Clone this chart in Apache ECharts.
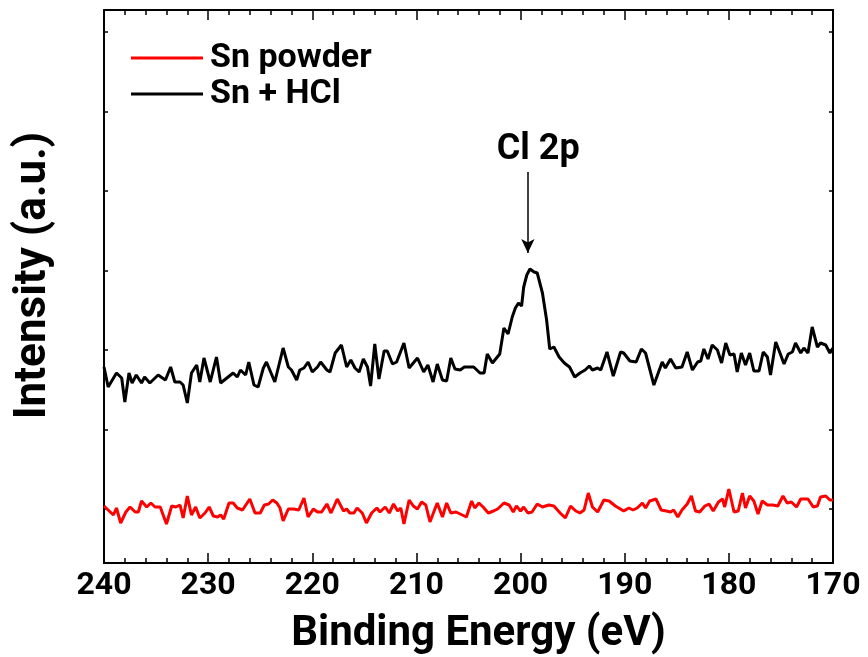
<!DOCTYPE html>
<html>
<head>
<meta charset="utf-8">
<title>XPS Cl 2p</title>
<script src="https://cdn.jsdelivr.net/npm/echarts@6/dist/echarts.min.js"></script>
<style>
  html, body { margin: 0; padding: 0; background: #fff; }
  #chart { width: 868px; height: 657px; }
</style>
</head>
<body>
<div id="chart"></div>
<script>
// Binding energy axis (eV), drawn high to low
const xTicks = [240, 230, 220, 210, 200, 190, 180, 170];
// Intensity tick positions (a.u.)
const yTicks = [0, 79.5, 159, 238.5, 318, 397.5, 477];

// Sn + HCl spectrum
const hclEnergy = [240.0,239.6,238.8,238.3,238.0,237.6,237.3,236.9,236.4,236.1,
  235.6,234.8,234.1,233.6,233.2,232.7,232.4,232.0,231.6,231.1,
  230.8,230.4,229.8,229.2,228.8,228.2,227.6,227.2,226.9,226.4,
  226.1,225.6,225.2,224.7,224.4,223.6,222.8,222.3,222.0,221.5,
  221.2,220.8,220.4,220.0,219.5,219.2,218.6,218.3,217.8,217.2,
  216.7,216.3,215.9,215.5,215.1,214.7,214.4,214.0,213.6,213.1,
  212.8,212.3,211.9,211.2,210.7,209.9,209.3,208.9,208.4,208.0,
  207.5,207.1,206.7,206.3,205.8,205.4,204.5,203.9,203.5,203.2,
  202.7,202.0,201.6,201.2,200.8,200.5,200.2,199.9,199.7,199.4,
  199.1,198.7,198.4,197.9,197.5,197.2,196.8,196.3,195.8,195.3,
  194.8,194.3,193.8,193.4,193.1,192.6,192.3,191.7,191.1,190.4,
  190.1,189.5,188.9,188.4,188.0,187.2,186.4,186.1,185.6,185.1,
  184.5,184.0,183.5,183.0,182.7,182.4,182.0,181.6,181.1,180.7,
  180.3,179.9,179.5,179.2,178.8,178.4,178.0,177.6,177.1,176.7,
  176.3,176.0,175.5,175.2,174.7,174.3,173.9,173.6,173.1,172.8,
  172.4,172.0,171.5,171.2,170.7,170.3,170.0];
const hclIntensity = [142,122,136,131,107,136,126,134,126,132,
  126,134,129,142,127,127,124,106,136,144,
  127,151,127,152,126,131,136,132,139,134,
  147,124,122,141,147,127,161,142,139,129,
  139,141,147,137,142,147,139,137,156,164,
  142,149,141,137,150,142,123,165,130,158,
  158,145,147,166,141,151,137,144,127,145,
  129,128,151,140,139,142,142,136,136,155,
  146,155,181,175,192,201,206,203,222,234,
  240,237,236,216,189,160,162,152,146,142,
  132,136,139,143,139,141,139,157,133,157,
  156,148,147,160,156,124,147,141,150,141,
  142,157,139,147,148,160,150,164,159,146,
  166,154,155,137,156,144,156,138,138,157,
  152,134,167,159,145,155,157,166,156,161,
  156,182,162,166,164,156,161];

// Sn powder spectrum
const powderEnergy = [240.0,239.6,239.1,238.8,238.4,237.9,237.5,237.0,236.7,236.4,
  235.9,235.5,235.1,234.6,234.0,233.5,233.1,232.7,232.4,232.0,
  231.6,231.2,230.8,230.3,229.9,229.5,229.1,228.8,228.5,228.0,
  227.6,227.2,226.7,226.0,225.5,225.0,224.6,224.2,223.8,223.4,
  223.1,222.8,222.3,221.8,221.3,220.8,220.4,219.9,219.5,219.1,
  218.6,218.2,217.6,217.0,216.7,216.4,
  216.0,215.7,215.2,214.8,214.3,213.8,213.5,213.0,212.6,212.2,
  211.8,211.5,211.2,210.7,210.3,209.9,209.5,209.1,208.7,208.3,
  208.0,207.5,207.1,206.7,206.2,205.8,205.2,204.7,204.4,204.0,
  203.6,203.1,202.6,202.2,201.6,201.1,200.7,200.4,200.0,199.7,
  199.3,198.9,198.4,197.9,197.3,196.8,196.2,195.7,195.2,194.7,
  194.3,193.9,193.5,
  193.1,192.6,192.0,191.5,190.9,190.1,189.6,189.2,188.8,188.3,
  188.0,187.6,187.0,186.5,186.0,185.6,185.3,184.9,184.5,184.0,
  183.6,183.2,182.8,182.3,181.9,181.5,181.0,180.6,180.4,180.0,
  179.5,179.1,178.7,178.4,178.0,177.6,177.2,176.8,176.3,175.8,
  175.3,174.8,174.4,174.0,173.5,173.1,172.4,171.9,171.5,171.2,
  170.7,170.3,170.0];
const powderIntensity = [3,-1,-6,1,-14,-3,2,-3,-3,8,
  2,6,2,2,-15,3,2,4,-9,13,
  -6,2,-9,-4,2,-7,-8,-6,-10,6,
  6,1,-1,10,-4,-4,4,5,9,6,
  1,-12,0,0,-1,11,-8,0,-3,-3,
  5,-4,10,-2,0,-4,
  -4,1,-4,-14,-4,1,-3,2,-4,5,
  -2,1,-15,9,3,0,7,4,-13,-2,
  6,-8,6,-4,-3,-5,-8,8,1,6,
  2,-4,-2,0,6,4,-3,3,-2,2,
  -4,-3,5,2,4,3,-4,-9,3,-2,
  -4,-1,16,
  2,-3,9,8,3,-2,1,-1,1,6,
  1,8,10,-1,-2,-3,-1,-8,-1,5,
  13,-2,-3,3,5,-2,7,10,2,20,
  -3,-2,16,1,13,8,-5,8,4,4,
  3,13,6,7,2,10,10,2,3,12,
  13,9,9];

// Cl 2p peak marker
const peakEnergy = 199.3;
const arrowFrom = 337;
const arrowTo = 256;
const peakLabelPos = [198.3, 359];

const pairs = (xs, ys) => xs.map((x, i) => [x, ys[i]]);

const FONT = "Roboto, 'Liberation Sans', sans-serif";
const yMin = -54, yMax = 499;

const chart = echarts.init(document.getElementById('chart'), null, { renderer: 'canvas' });

const xBase = {
  type: 'value', min: 170, max: 240, interval: 10, inverse: true,
  axisLine: { show: true, onZero: false, lineStyle: { color: '#000', width: 2 } },
  splitLine: { show: false },
  minorTick: { show: true, splitNumber: 5, length: 5, lineStyle: { color: '#000', width: 1.5 } },
  axisTick: { show: true, inside: true, length: 10, lineStyle: { color: '#000', width: 1.5 } }
};
const yBase = {
  type: 'value', min: yMin, max: yMax,
  axisLine: { show: true, onZero: false, lineStyle: { color: '#000', width: 2 } },
  splitLine: { show: false },
  axisTick: { show: true, inside: true, length: 4, customValues: yTicks, lineStyle: { color: '#000', width: 1.5 } },
  axisLabel: { show: false }
};

chart.setOption({
  backgroundColor: '#fff',
  animation: false,
  grid: { left: 104, right: 35, top: 10, bottom: 94, containLabel: false, outerBoundsMode: 'none' },
  legend: {
    orient: 'vertical', left: 126, top: 35,
    itemWidth: 72, itemHeight: 3, itemGap: 0, icon: 'rect',
    textStyle: { fontFamily: FONT, fontWeight: 'bold', fontSize: 34, lineHeight: 36, color: '#000', padding: [0, 0, 0, 2] },
    data: ['Sn powder', 'Sn + HCl']
  },
  xAxis: [
    Object.assign({}, xBase, {
      position: 'bottom',
      name: 'Binding Energy (eV)', nameLocation: 'middle', nameGap: 50,
      nameTextStyle: { fontFamily: FONT, fontWeight: 'bold', fontSize: 42, color: '#000', padding: [0, 0, 0, 20] },
      axisLabel: { show: true, margin: 7, fontFamily: FONT, fontWeight: 'bold', fontSize: 32, color: '#000',
        customValues: xTicks }
    }),
    Object.assign({}, xBase, { position: 'top', axisLabel: { show: false } })
  ],
  yAxis: [
    Object.assign({}, yBase, {
      position: 'left',
      name: 'Intensity (a.u.)', nameLocation: 'middle', nameGap: 48,
      nameTextStyle: { fontFamily: FONT, fontWeight: 'bold', fontSize: 44, color: '#000', padding: [0, 0, 0, 22] }
    }),
    Object.assign({}, yBase, { position: 'right' })
  ],
  series: [
    {
      name: 'Sn powder', type: 'line', symbol: 'none',
      xAxisIndex: 0, yAxisIndex: 0,
      lineStyle: { color: '#ff0000', width: 3 }, itemStyle: { color: '#ff0000' },
      data: pairs(powderEnergy, powderIntensity)
    },
    {
      name: 'Sn + HCl', type: 'line', symbol: 'none',
      xAxisIndex: 0, yAxisIndex: 0,
      lineStyle: { color: '#000', width: 3 }, itemStyle: { color: '#000' },
      data: pairs(hclEnergy, hclIntensity),
      markLine: {
        silent: true, symbol: ['none', 'arrow'], symbolSize: [10, 14],
        lineStyle: { color: '#000', width: 1.5, type: 'solid' },
        label: { show: false },
        data: [[{ coord: [peakEnergy, arrowFrom] }, { coord: [peakEnergy, arrowTo] }]]
      },
      markPoint: {
        silent: true, symbol: 'circle', symbolSize: 0,
        label: { show: true, position: 'inside', formatter: 'Cl 2p',
          fontFamily: FONT, fontWeight: 'bold', fontSize: 36, color: '#000' },
        data: [{ coord: peakLabelPos }]
      }
    }
  ]
});
</script>
</body>
</html>
